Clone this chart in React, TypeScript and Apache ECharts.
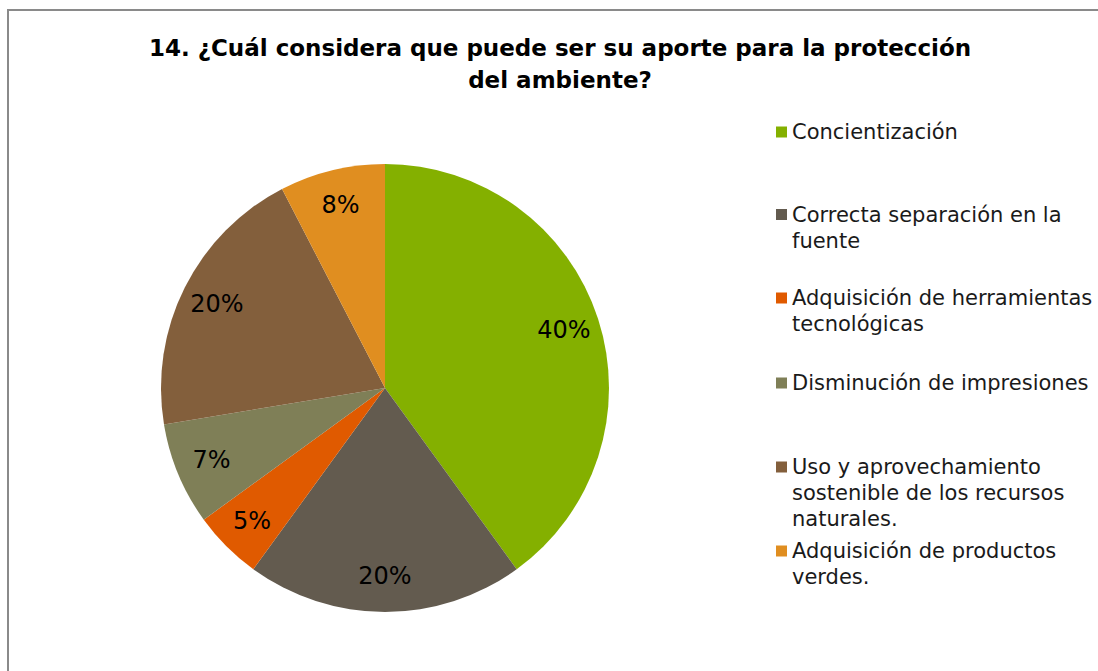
import React, { useEffect, useRef } from "react";
import * as echarts from "echarts";

const titleText = "14. ¿Cuál considera que puede ser su aporte para la protección\ndel ambiente?";
const categories = [
  "Concientización",
  "Correcta separación en la fuente",
  "Adquisición de herramientas tecnológicas",
  "Disminución de impresiones",
  "Uso y aprovechamiento sostenible de los recursos naturales.",
  "Adquisición de productos verdes.",
];
const legendLines = [
  ["Concientización"],
  ["Correcta separación en la", "fuente"],
  ["Adquisición de herramientas", "tecnológicas"],
  ["Disminución de impresiones"],
  ["Uso y aprovechamiento", "sostenible de los recursos", "naturales."],
  ["Adquisición de productos", "verdes."],
];
const values = [40, 20, 5, 7.4, 20, 7.6];
const colors = ["#84B000", "#635B4F", "#E05A00", "#7F7F57", "#835F3C", "#E08E20"];

const FONT = "DejaVu Sans";
const LINE_H = 26;
const legendCenters = [132, 214.5, 298, 383, 467, 551];

export default function App() {
  const ref = useRef<HTMLDivElement>(null);
  useEffect(() => {
    if (!ref.current) return;
    const chart = echarts.init(ref.current, undefined, { renderer: "svg" });
    const data = categories.map((name, i) => ({ name, value: values[i], itemStyle: { color: colors[i] } }));
    const legends = categories.map((name, i) => {
      const n = legendLines[i].length;
      return {
        orient: "vertical",
        left: 771,
        top: legendCenters[i] + 8 - LINE_H * n,
        itemWidth: 11,
        itemHeight: 11,
        icon: "rect",
        selectedMode: false,
        data: [name],
        formatter: (nm: string) => {
          const lines = legendLines[categories.indexOf(nm)];
          // leading blank lines keep the icon level with the first line
          return new Array(lines.length - 1).fill(" ").concat(lines).join("\n");
        },
        textStyle: {
          fontFamily: FONT,
          fontSize: 21,
          lineHeight: LINE_H,
          color: "#1a1a1a",
        },
      };
    });
    chart.setOption({
      animation: false,
      backgroundColor: "#ffffff",
      title: {
        text: titleText,
        left: 555,
        top: 27,
        textAlign: "center",
        textStyle: {
          fontFamily: "DejaVu Sans",
          fontWeight: "bold",
          fontSize: 23,
          lineHeight: 32,
          color: "#000",
        },
      },
      legend: legends,
      graphic: [
        {
          type: "rect",
          shape: { x: 8, y: 10, width: 1300, height: 900 },
          style: { fill: "none", stroke: "#8a8a8a", lineWidth: 2 },
          silent: true,
          z: 100,
        },
      ],
      series: [
        {
          type: "pie",
          center: [385, 388],
          radius: [0, 224],
          startAngle: 90,
          clockwise: true,
          data,
          label: { show: false },
          labelLine: { show: false },
          silent: true,
        },
        {
          type: "pie",
          center: [385, 388],
          radius: [146, 224],
          startAngle: 90,
          clockwise: true,
          percentPrecision: 0,
          data: categories.map((name, i) => ({ name, value: values[i] })),
          itemStyle: { color: "transparent" },
          label: {
            show: true,
            position: "inside",
            formatter: "{d}%",
            fontFamily: FONT,
            fontSize: 24,
            color: "#000",
          },
          labelLine: { show: false },
          silent: true,
        },
      ],
    });
    return () => chart.dispose();
  }, []);
  return (
    <div
      ref={ref}
      style={{ position: "absolute", left: 0, top: 0, width: 1098, height: 671 }}
    />
  );
}
